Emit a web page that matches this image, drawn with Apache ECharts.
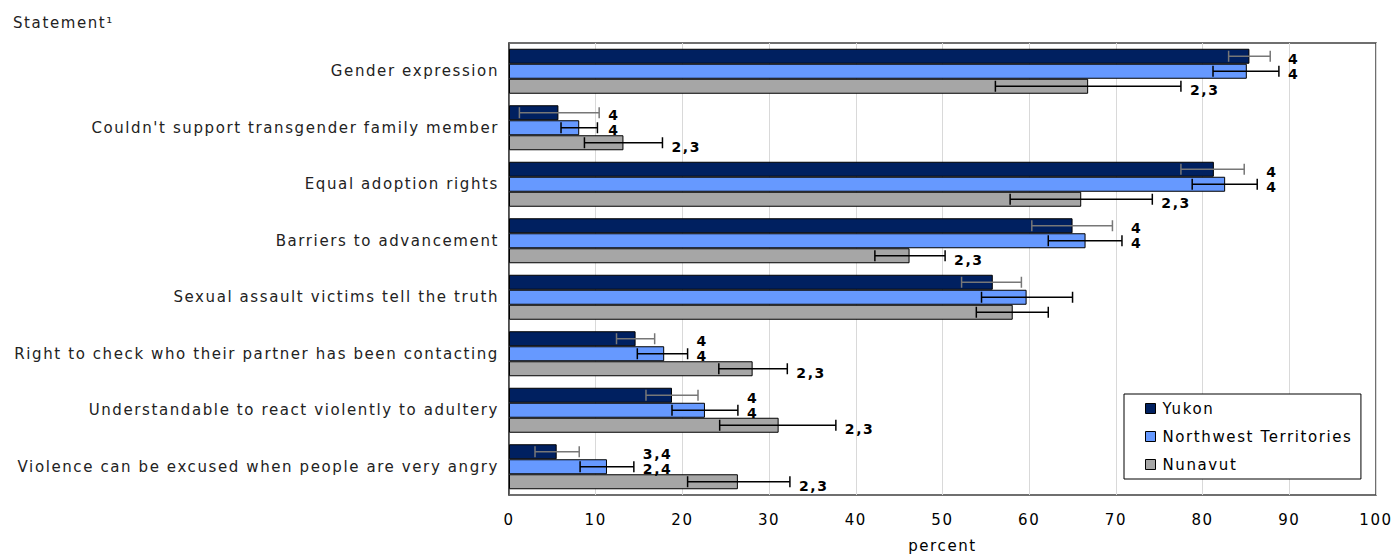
<!DOCTYPE html>
<html>
<head>
<meta charset="utf-8">
<script src="https://cdn.jsdelivr.net/npm/echarts@6/dist/echarts.min.js"></script>
<style>
  html, body { margin: 0; padding: 0; background: #fff; }
  #chart { width: 1395px; height: 554px; }
  /* the chart text is set wide and airy */
  #chart svg text { letter-spacing: 1.6px; }
</style>
</head>
<body>
<div id="chart"></div>
<script>
// Statements, top to bottom
const categories = [
  'Gender expression',
  "Couldn't support transgender family member",
  'Equal adoption rights',
  'Barriers to advancement',
  'Sexual assault victims tell the truth',
  'Right to check who their partner has been contacting',
  'Understandable to react violently to adultery',
  'Violence can be excused when people are very angry'
];

// Percent agreeing, with 95% confidence limits
const yukon     = [85.4, 5.7, 81.3, 65.0, 55.8, 14.6, 18.8, 5.5];
const yukonLow  = [83.0, 1.2, 77.5, 60.3, 52.2, 12.4, 15.8, 3.0];
const yukonHigh = [87.8, 10.4, 84.8, 69.6, 59.1, 16.8, 21.8, 8.1];

const nwt     = [85.1, 8.1, 82.6, 66.5, 59.7, 17.9, 22.6, 11.3];
const nwtLow  = [81.2, 6.0, 78.8, 62.2, 54.5, 14.8, 18.8, 8.2];
const nwtHigh = [88.8, 10.2, 86.3, 70.7, 65.0, 20.6, 26.4, 14.4];

const nunavut     = [66.8, 13.2, 66.0, 46.2, 58.1, 28.1, 31.1, 26.4];
const nunavutLow  = [56.1, 8.7, 57.8, 42.2, 53.9, 24.2, 24.3, 20.6];
const nunavutHigh = [77.5, 17.7, 74.2, 50.3, 62.2, 32.1, 37.7, 32.4];

// Significance notes beside each bar
const yukonNotes   = ['4', '4', '4', '4', '', '4', '4', '3,4'];
const nwtNotes     = ['4', '4', '4', '4', '', '4', '4', '2,4'];
const nunavutNotes = ['2,3', '2,3', '2,3', '2,3', '', '2,3', '2,3', '2,3'];

const xTicks = [0, 10, 20, 30, 40, 50, 60, 70, 80, 90, 100];

const FONT = '"DejaVu Sans", Verdana, sans-serif';
const BAR_H = 15;

// Yukon and NWT notes share a column just past the wider of their two error bars
const pairAnchor = yukonHigh.map((v, i) => Math.max(v, nwtHigh[i]));

function errorSeries(name, slot, low, high, anchor, notes, whiskerColor) {
  return {
    type: 'custom',
    name: name + ' interval',
    z: 5,
    encode: { x: [1, 2, 3], y: 0 },
    data: categories.map((c, i) => [i, low[i], high[i], anchor[i], notes[i]]),
    renderItem(params, api) {
      const cat = api.value(0);
      const yc = api.coord([0, cat])[1] + (slot - 1) * BAR_H;
      const x0 = api.coord([api.value(1), cat])[0];
      const x1 = api.coord([api.value(2), cat])[0];
      const xa = api.coord([api.value(3), cat])[0];
      const cap = 5.5;
      const stroke = { stroke: whiskerColor, lineWidth: 1.5 };
      const children = [
        { type: 'line', shape: { x1: x0, y1: yc, x2: x1, y2: yc }, style: stroke },
        { type: 'line', shape: { x1: x0, y1: yc - cap, x2: x0, y2: yc + cap }, style: stroke },
        { type: 'line', shape: { x1: x1, y1: yc - cap, x2: x1, y2: yc + cap }, style: stroke }
      ];
      const note = notes[params.dataIndex];
      if (note) {
        children.push({
          type: 'text',
          style: {
            text: note, x: xa + 9, y: yc + (slot === 2 ? 4 : 2.5),
            fill: '#000', font: 'bold 14px ' + FONT,
            align: 'left', verticalAlign: 'middle'
          }
        });
      }
      return { type: 'group', children };
    }
  };
}

function barSeries(name, values, color) {
  return {
    type: 'bar',
    name,
    data: values,
    barWidth: BAR_H,
    barGap: '0%',
    itemStyle: { color, borderColor: '#000', borderWidth: 1 }
  };
}

const chart = echarts.init(document.getElementById('chart'), null, { renderer: 'svg' });
chart.setOption({
  animation: false,
  backgroundColor: '#fff',
  textStyle: { fontFamily: FONT },
  title: {
    text: 'Statement¹',
    left: 8, top: 10,
    textStyle: { fontFamily: FONT, fontSize: 15, fontWeight: 'normal', color: '#222' }
  },
  grid: {
    left: 509, right: 19, top: 43, bottom: 59,
    outerBoundsMode: 'none',
    containLabel: false,
    show: true, borderColor: '#404040', borderWidth: 1.5
  },
  legend: {
    data: ['Yukon', 'Northwest Territories', 'Nunavut'],
    orient: 'vertical',
    left: 1124, top: 394,
    padding: [7, 42, 7, 21],
    itemGap: 13,
    itemWidth: 10, itemHeight: 10,
    icon: 'rect',
    borderColor: '#000', borderWidth: 1,
    backgroundColor: '#fff',
    itemStyle: { borderColor: '#000', borderWidth: 1 },
    textStyle: { fontFamily: FONT, fontSize: 15, color: '#000', padding: [0, 0, 0, 2] }
  },
  xAxis: {
    type: 'value',
    min: xTicks[0], max: xTicks[xTicks.length - 1], interval: 10,
    name: 'percent', nameLocation: 'middle', nameGap: 43,
    nameTextStyle: { fontFamily: FONT, fontSize: 15, color: '#000' },
    axisLine: { show: false },
    axisTick: { show: false },
    axisLabel: { fontFamily: FONT, fontSize: 15, color: '#000', margin: 17 },
    splitLine: { show: true, lineStyle: { color: '#d9d9d9', width: 1 } }
  },
  yAxis: {
    type: 'category',
    data: categories,
    inverse: true,
    axisLine: { show: true, lineStyle: { color: '#404040', width: 1.5 } },
    axisTick: { show: false },
    axisLabel: { fontFamily: FONT, fontSize: 15, color: '#222', margin: 10 }
  },
  series: [
    barSeries('Yukon', yukon, '#002060'),
    barSeries('Northwest Territories', nwt, '#6699ff'),
    barSeries('Nunavut', nunavut, '#a6a6a6'),
    errorSeries('Yukon', 0, yukonLow, yukonHigh, pairAnchor, yukonNotes, '#777777'),
    errorSeries('Northwest Territories', 1, nwtLow, nwtHigh, pairAnchor, nwtNotes, '#000000'),
    errorSeries('Nunavut', 2, nunavutLow, nunavutHigh, nunavutHigh, nunavutNotes, '#000000')
  ]
});
</script>
</body>
</html>
